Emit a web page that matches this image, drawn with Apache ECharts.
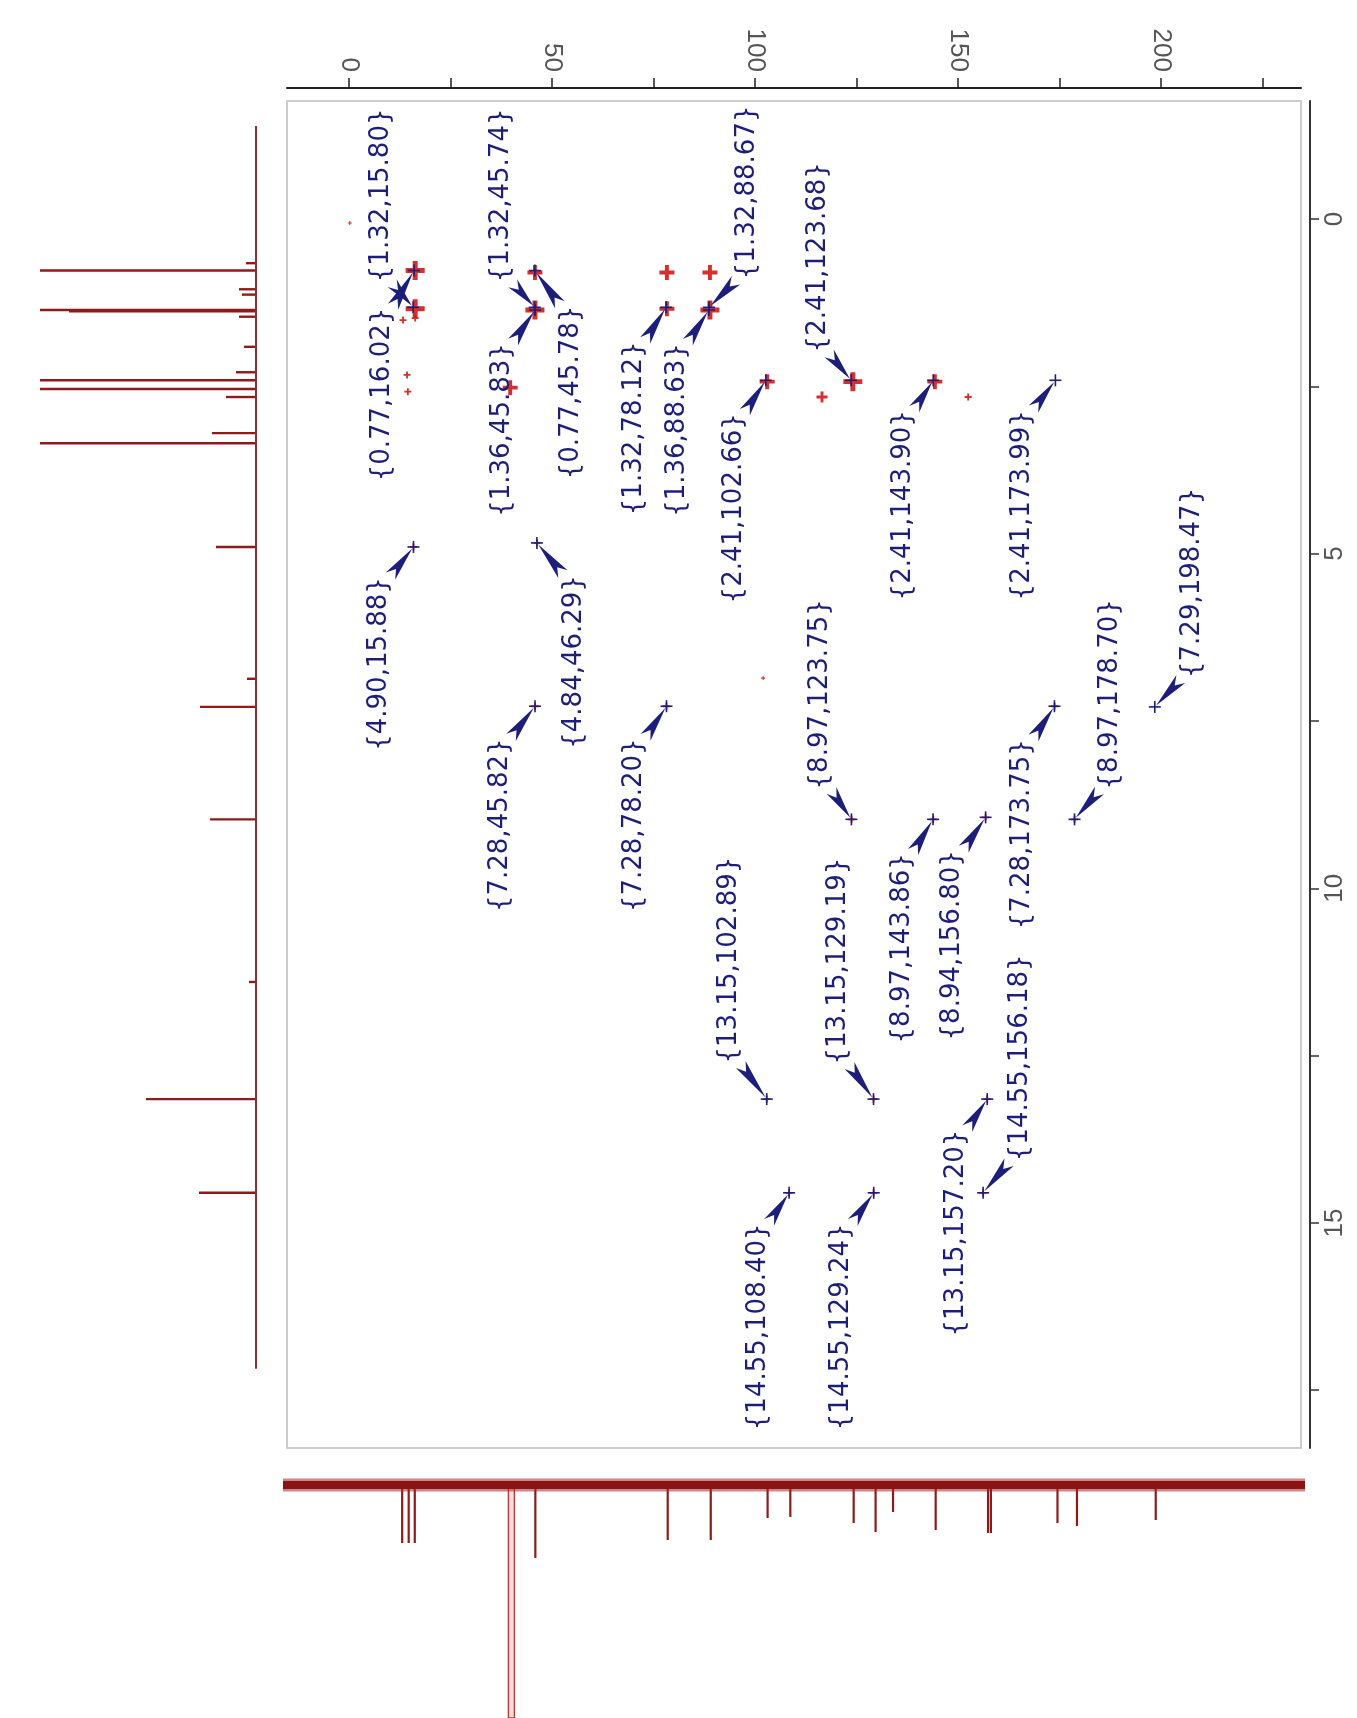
<!DOCTYPE html>
<html>
<head>
<meta charset="utf-8">
<script src="https://cdn.jsdelivr.net/npm/echarts@6/dist/echarts.min.js"></script>
<style>
  html, body { margin: 0; padding: 0; background: #ffffff; }
  #chart { width: 1357px; height: 1718px; }
</style>
</head>
<body>
<div id="chart"></div>
<script>
// ---- HMBC correlations: proton shift / carbon shift (ppm) ----
const hmbcH = [1.32, 0.77, 4.90, 1.32, 1.36, 0.77, 4.84, 7.28, 1.32, 7.28, 1.36, 1.32, 2.41, 2.41,
               2.41, 2.41, 7.29, 8.97, 8.97, 8.94, 7.28, 8.97, 13.15, 13.15, 14.55, 14.55, 13.15, 14.55];
const hmbcC = [15.80, 16.02, 15.88, 45.74, 45.83, 45.78, 46.29, 45.82, 78.12, 78.20, 88.63, 88.67, 102.66, 123.68,
               143.90, 173.99, 198.47, 123.75, 143.86, 156.80, 173.75, 178.70, 102.89, 129.19, 108.40, 129.24, 157.20, 156.18];

// callout placement: label centre relative to its cross peak (px)
const calloutOffset = [[-32,-112],[-32,124],[-34,117],[-33,-112],[-33,120],[36,122],[37,119],[-35,119],
                       [-32,121],[-32,119],[-32,120],[38,-115],[-32,128],[-33,-123],[-30,125],[-33,125],
                       [37,-124],[-31,-125],[-31,129],[-33,128],[-32,128],[36,-125],[-37,-139],[-35,-138],
                       [-31,134],[-32,134],[-31,134],[37,-135]];

// ---- contour blobs of the 2D map: carbon, proton, intensity level ----
const contourC = [0.2, 16.3, 16.3, 13.3, 16.3, 14.3, 14.5, 45.8, 45.8, 39.7, 78.3, 78.3, 88.9, 88.9, 103.0,
                  116.5, 124.1, 144.3, 152.5, 102.0, 15.9, 45.8, 46.3, 78.2, 123.8, 143.9, 156.8, 173.8,
                  178.7, 102.9, 129.2, 157.2, 108.4, 129.2, 156.2];
const contourH = [0.06, 0.77, 1.34, 1.51, 1.48, 2.33, 2.58, 0.80, 1.36, 2.52, 0.80, 1.34, 0.80, 1.36, 2.43,
                  2.66, 2.43, 2.43, 2.66, 6.86, 4.90, 7.28, 4.84, 7.28, 8.97, 8.97, 8.94, 7.28,
                  8.97, 13.15, 13.15, 13.15, 14.55, 14.55, 14.55];
const contourLevel = [0, 4, 4, 1, 1, 1, 1, 3, 4, 3, 3, 3, 3, 4, 3,
                      2, 4, 3, 1, 0, 1, 1, 1, 1, 1, 1, 1, 1,
                      1, 1, 1, 1, 1, 1, 1];

// ---- 1H projection: peak shift (ppm) and height ----
const protonPeakPpm    = [0.66, 0.77, 1.05, 1.13, 1.36, 1.38, 1.46, 1.91, 2.29, 2.41, 2.54, 2.66, 3.20, 3.35,
                          4.90, 6.87, 7.29, 8.97, 11.40, 13.15, 14.55];
const protonPeakHeight = [10, 400, 17, 14, 400, 187, 17, 12, 20, 400, 400, 30, 44, 400,
                          40, 9, 56, 46, 7, 110, 57];
const protonBaseRange  = [-1.39, 17.18];

// ---- 13C projection: peak shift (ppm) and depth ----
const carbonPeakPpm   = [13.1, 14.7, 16.2, 40.0, 45.9, 78.5, 89.1, 103.1, 108.7, 124.3, 129.7, 134.0,
                         144.5, 157.4, 158.1, 174.5, 179.3, 198.7];
const carbonPeakDepth = [58, 58, 58, 400, 73, 55, 55, 33, 32, 38, 47, 27,
                         45, 48, 48, 38, 41, 35];

// ---- axis ticks ----
const carbonTicks      = [0, 25, 50, 75, 100, 125, 150, 175, 200, 225];
const carbonTickLabels = [0, 50, 100, 150, 200];
const protonTicks      = [0, 2.5, 5, 7.5, 10, 12.5, 15, 17.5];
const protonTickLabels = [0, 5, 10, 15];

const C_MIN = -15.27, C_MAX = 234.48;
const H_MIN = -1.763, H_MAX = 18.363;

const NAVY = '#1c1e7a';
const PEAK_RED = '#d41c1c';
const TRACE_RED = '#8e1a1a';
const LABEL_FONT = '26px "DejaVu Sans"';
const levelSize = [4, 7, 11, 15, 19];

const measureCtx = document.createElement('canvas').getContext('2d');
measureCtx.font = LABEL_FONT;

function renderCallout(params, api) {
  const i = params.dataIndex;
  const c = api.value(0), h = api.value(1);
  const p = api.coord([c, h]);
  const off = calloutOffset[i];
  const cx = p[0] + off[0], cy = p[1] + off[1];
  const text = '{' + h.toFixed(2) + ',' + c.toFixed(2) + '}';
  const half = measureCtx.measureText(text).width / 2;
  const below = off[1] > 0;
  const sy = below ? cy - half - 1 : cy + half + 1;
  const sx = cx + Math.max(-11, Math.min(11, p[0] - cx));
  const dx = p[0] - sx, dy = p[1] - sy;
  const len = Math.hypot(dx, dy);
  const ux = dx / len, uy = dy / len, nx = -uy, ny = ux;
  const w = 6, notch = 9;
  const tx = p[0] - ux * 2, ty = p[1] - uy * 2;
  return {
    type: 'group',
    children: [
      { type: 'polygon', shape: { points: [[tx, ty], [sx + nx * w, sy + ny * w], [sx + ux * notch, sy + uy * notch], [sx - nx * w, sy - ny * w]] },
        style: { fill: NAVY } },
      { type: 'line', shape: { x1: p[0] - 6, y1: p[1], x2: p[0] + 6, y2: p[1] }, style: { stroke: NAVY, lineWidth: 1.6 } },
      { type: 'line', shape: { x1: p[0], y1: p[1] - 6, x2: p[0], y2: p[1] + 6 }, style: { stroke: NAVY, lineWidth: 1.6 } },
      { type: 'text', x: cx, y: cy, rotation: Math.PI / 2,
        style: { text: text, fill: NAVY, font: LABEL_FONT, align: 'center', verticalAlign: 'middle' } }
    ]
  };
}

function renderProtonStick(params, api) {
  const ppm = api.value(0), hgt = api.value(1);
  const cs = params.coordSys;
  const base = api.coord([0, ppm]);
  const tip = api.coord([hgt, ppm]);
  return { type: 'line', shape: { x1: base[0], y1: base[1], x2: Math.max(cs.x, tip[0]), y2: tip[1] },
           style: { stroke: TRACE_RED, lineWidth: 2.4 } };
}

function renderCarbonStick(params, api) {
  const ppm = api.value(0), depth = api.value(1);
  const cs = params.coordSys;
  const base = api.coord([ppm, 0]);
  const tip = api.coord([ppm, depth]);
  const bottom = cs.y + cs.height;
  if (tip[1] > bottom) {
    // off-scale line: drawn as an open narrow spike reaching the edge
    return { type: 'polygon', shape: { points: [[base[0] - 3, base[1]], [base[0] - 3, bottom], [base[0] + 3, bottom], [base[0] + 3, base[1]]] },
             style: { fill: '#f6dede', stroke: '#b83a3a', lineWidth: 1.4 } };
  }
  return { type: 'line', shape: { x1: base[0], y1: base[1], x2: tip[0], y2: tip[1] },
           style: { stroke: TRACE_RED, lineWidth: 2.2 } };
}

const chart = echarts.init(document.getElementById('chart'), null, { renderer: 'canvas' });

const hiddenAxis = { show: false };

chart.setOption({
  animation: false,
  backgroundColor: '#ffffff',
  grid: [
    { left: 287, top: 101, width: 1014, height: 1347, show: true, borderColor: '#cdcdcd', borderWidth: 2, backgroundColor: 'transparent' },
    { left: 40, top: 101, width: 216, height: 1347 },
    { left: 287, top: 1470, width: 1014, height: 248 }
  ],
  xAxis: [
    { gridIndex: 0, type: 'value', position: 'top', offset: 13, min: C_MIN, max: C_MAX,
      axisLine: { show: true, onZero: false, lineStyle: { color: '#222', width: 2 } },
      axisTick: { show: true, customValues: carbonTicks, length: 10, lineStyle: { color: '#222', width: 1.5 } },
      axisLabel: { show: true, customValues: carbonTickLabels, rotate: 90, margin: 16, color: '#555',
                   fontFamily: 'Liberation Sans', fontSize: 26 },
      splitLine: { show: false } },
    { gridIndex: 1, type: 'value', min: 0, max: 216, inverse: true, ...hiddenAxis },
    { gridIndex: 2, type: 'value', min: C_MIN, max: C_MAX, ...hiddenAxis }
  ],
  yAxis: [
    { gridIndex: 0, type: 'value', position: 'right', offset: 9, inverse: true, min: H_MIN, max: H_MAX,
      axisLine: { show: true, onZero: false, lineStyle: { color: '#333', width: 2 } },
      axisTick: { show: true, customValues: protonTicks, length: 9, lineStyle: { color: '#333', width: 1.5 } },
      axisLabel: { show: true, customValues: protonTickLabels, rotate: 90, margin: 12, color: '#555',
                   fontFamily: 'Liberation Sans', fontSize: 26 },
      splitLine: { show: false } },
    { gridIndex: 1, type: 'value', inverse: true, min: H_MIN, max: H_MAX, ...hiddenAxis },
    { gridIndex: 2, type: 'value', inverse: true, min: -15, max: 233, ...hiddenAxis }
  ],
  series: [
    // contour blobs
    { type: 'scatter', xAxisIndex: 0, yAxisIndex: 0, silent: true, z: 2,
      data: contourC.map((c, i) => [c, contourH[i], contourLevel[i]]),
      symbol: 'path://M-1.3,-5L1.3,-5L1.3,-1.3L5,-1.3L5,1.3L1.3,1.3L1.3,5L-1.3,5L-1.3,1.3L-5,1.3L-5,-1.3L-1.3,-1.3Z',
      symbolSize: d => levelSize[d[2]],
      itemStyle: { color: PEAK_RED, opacity: 0.92 } },
    // annotated correlations
    { type: 'custom', xAxisIndex: 0, yAxisIndex: 0, silent: true, z: 3,
      data: hmbcC.map((c, i) => [c, hmbcH[i]]),
      renderItem: renderCallout },
    // 1H projection
    { type: 'line', xAxisIndex: 1, yAxisIndex: 1, silent: true, symbol: 'none',
      data: protonBaseRange.map(p => [0, p]),
      lineStyle: { color: '#8a3030', width: 2 } },
    { type: 'custom', xAxisIndex: 1, yAxisIndex: 1, silent: true,
      data: protonPeakPpm.map((p, i) => [p, protonPeakHeight[i]]),
      encode: { x: 1, y: 0 },
      renderItem: renderProtonStick },
    // 13C projection
    { type: 'line', xAxisIndex: 2, yAxisIndex: 2, silent: true, symbol: 'none', clip: false,
      data: [[C_MIN - 1, 0], [C_MAX + 1, 0]],
      lineStyle: { color: '#a52424', width: 13, opacity: 0.55 } },
    { type: 'line', xAxisIndex: 2, yAxisIndex: 2, silent: true, symbol: 'none', clip: false,
      data: [[C_MIN - 1, 0], [C_MAX + 1, 0]],
      lineStyle: { color: '#8a1414', width: 8 } },
    { type: 'custom', xAxisIndex: 2, yAxisIndex: 2, silent: true,
      data: carbonPeakPpm.map((p, i) => [p, carbonPeakDepth[i]]),
      renderItem: renderCarbonStick }
  ]
});
</script>
</body>
</html>
